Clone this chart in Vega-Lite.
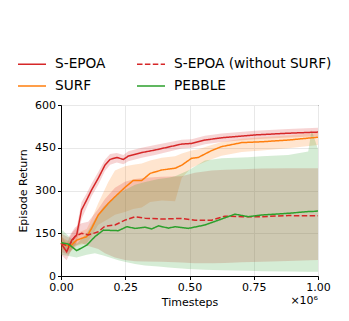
{
  "$schema": "https://vega.github.io/schema/vega-lite/v6.json",
  "autosize": {"type": "none"},
  "width": 257,
  "height": 171,
  "padding": {"left": 61, "top": 105, "right": 31, "bottom": 45},
  "background": "white",
  "config": {
    "font": "DejaVu Sans",
    "view": {"stroke": "black", "strokeWidth": 1},
    "axis": {
      "labelFont": "DejaVu Sans", "labelFontSize": 11, "labelColor": "black",
      "titleFont": "DejaVu Sans", "titleFontSize": 11, "titleFontWeight": "normal", "titleColor": "black",
      "domainColor": "black", "tickColor": "black", "tickSize": 3.5, "labelPadding": 2,
      "gridColor": "#e8e8e8", "gridWidth": 1, "labelFlush": false
    },
    "legend": {
      "labelFont": "DejaVu Sans", "labelFontSize": 13.7, "labelColor": "black"
    }
  },
  "datasets": {
    "bands": [
      {"series": "S-EPOA", "x": 0.0, "y": 115, "lo": 75, "hi": 140},
      {"series": "S-EPOA", "x": 0.022, "y": 85, "lo": 55, "hi": 115},
      {"series": "S-EPOA", "x": 0.042, "y": 126, "lo": 95, "hi": 150},
      {"series": "S-EPOA", "x": 0.061, "y": 144, "lo": 115, "hi": 170},
      {"series": "S-EPOA", "x": 0.080, "y": 232, "lo": 200, "hi": 260},
      {"series": "S-EPOA", "x": 0.100, "y": 267, "lo": 240, "hi": 290},
      {"series": "S-EPOA", "x": 0.119, "y": 302, "lo": 280, "hi": 325},
      {"series": "S-EPOA", "x": 0.145, "y": 343, "lo": 320, "hi": 365},
      {"series": "S-EPOA", "x": 0.171, "y": 389, "lo": 368, "hi": 408},
      {"series": "S-EPOA", "x": 0.191, "y": 409, "lo": 390, "hi": 428},
      {"series": "S-EPOA", "x": 0.217, "y": 416, "lo": 398, "hi": 432},
      {"series": "S-EPOA", "x": 0.243, "y": 409, "lo": 392, "hi": 425},
      {"series": "S-EPOA", "x": 0.262, "y": 421, "lo": 403, "hi": 438},
      {"series": "S-EPOA", "x": 0.314, "y": 433, "lo": 415, "hi": 450},
      {"series": "S-EPOA", "x": 0.366, "y": 442, "lo": 425, "hi": 460},
      {"series": "S-EPOA", "x": 0.470, "y": 463, "lo": 447, "hi": 478},
      {"series": "S-EPOA", "x": 0.508, "y": 465, "lo": 450, "hi": 480},
      {"series": "S-EPOA", "x": 0.560, "y": 477, "lo": 462, "hi": 492},
      {"series": "S-EPOA", "x": 0.625, "y": 485, "lo": 470, "hi": 500},
      {"series": "S-EPOA", "x": 0.755, "y": 495, "lo": 480, "hi": 510},
      {"series": "S-EPOA", "x": 0.884, "y": 501, "lo": 486, "hi": 516},
      {"series": "S-EPOA", "x": 1.0, "y": 505, "lo": 490, "hi": 520},

      {"series": "SURF", "x": 0.0, "y": 117, "lo": 95, "hi": 140},
      {"series": "SURF", "x": 0.015, "y": 110, "lo": 90, "hi": 130},
      {"series": "SURF", "x": 0.035, "y": 103, "lo": 85, "hi": 120},
      {"series": "SURF", "x": 0.061, "y": 126, "lo": 105, "hi": 150},
      {"series": "SURF", "x": 0.100, "y": 138, "lo": 115, "hi": 165},
      {"series": "SURF", "x": 0.119, "y": 167, "lo": 140, "hi": 200},
      {"series": "SURF", "x": 0.145, "y": 214, "lo": 180, "hi": 255},
      {"series": "SURF", "x": 0.184, "y": 255, "lo": 200, "hi": 330},
      {"series": "SURF", "x": 0.210, "y": 278, "lo": 215, "hi": 370},
      {"series": "SURF", "x": 0.249, "y": 311, "lo": 225, "hi": 385},
      {"series": "SURF", "x": 0.281, "y": 335, "lo": 235, "hi": 390},
      {"series": "SURF", "x": 0.314, "y": 335, "lo": 240, "hi": 395},
      {"series": "SURF", "x": 0.347, "y": 360, "lo": 260, "hi": 405},
      {"series": "SURF", "x": 0.392, "y": 372, "lo": 265, "hi": 415},
      {"series": "SURF", "x": 0.444, "y": 378, "lo": 262, "hi": 420},
      {"series": "SURF", "x": 0.470, "y": 389, "lo": 345, "hi": 430},
      {"series": "SURF", "x": 0.508, "y": 413, "lo": 380, "hi": 440},
      {"series": "SURF", "x": 0.534, "y": 416, "lo": 390, "hi": 445},
      {"series": "SURF", "x": 0.586, "y": 440, "lo": 410, "hi": 460},
      {"series": "SURF", "x": 0.625, "y": 454, "lo": 422, "hi": 470},
      {"series": "SURF", "x": 0.703, "y": 468, "lo": 435, "hi": 482},
      {"series": "SURF", "x": 0.781, "y": 471, "lo": 440, "hi": 487},
      {"series": "SURF", "x": 0.884, "y": 477, "lo": 448, "hi": 493},
      {"series": "SURF", "x": 1.0, "y": 487, "lo": 460, "hi": 503},

      {"series": "S-EPOA (without SURF)", "x": 0.0, "y": 115, "lo": 85, "hi": 150},
      {"series": "S-EPOA (without SURF)", "x": 0.029, "y": 104, "lo": 75, "hi": 135},
      {"series": "S-EPOA (without SURF)", "x": 0.054, "y": 138, "lo": 105, "hi": 170},
      {"series": "S-EPOA (without SURF)", "x": 0.080, "y": 150, "lo": 115, "hi": 185},
      {"series": "S-EPOA (without SURF)", "x": 0.106, "y": 144, "lo": 105, "hi": 190},
      {"series": "S-EPOA (without SURF)", "x": 0.145, "y": 155, "lo": 95, "hi": 235},
      {"series": "S-EPOA (without SURF)", "x": 0.171, "y": 175, "lo": 80, "hi": 270},
      {"series": "S-EPOA (without SURF)", "x": 0.210, "y": 179, "lo": 65, "hi": 310},
      {"series": "S-EPOA (without SURF)", "x": 0.249, "y": 196, "lo": 56, "hi": 331},
      {"series": "S-EPOA (without SURF)", "x": 0.288, "y": 208, "lo": 52, "hi": 340},
      {"series": "S-EPOA (without SURF)", "x": 0.327, "y": 203, "lo": 51, "hi": 345},
      {"series": "S-EPOA (without SURF)", "x": 0.392, "y": 200, "lo": 50, "hi": 348},
      {"series": "S-EPOA (without SURF)", "x": 0.470, "y": 202, "lo": 47, "hi": 350},
      {"series": "S-EPOA (without SURF)", "x": 0.521, "y": 196, "lo": 45, "hi": 362},
      {"series": "S-EPOA (without SURF)", "x": 0.586, "y": 196, "lo": 45, "hi": 370},
      {"series": "S-EPOA (without SURF)", "x": 0.638, "y": 210, "lo": 46, "hi": 373},
      {"series": "S-EPOA (without SURF)", "x": 0.703, "y": 208, "lo": 48, "hi": 375},
      {"series": "S-EPOA (without SURF)", "x": 0.781, "y": 208, "lo": 50, "hi": 377},
      {"series": "S-EPOA (without SURF)", "x": 0.884, "y": 212, "lo": 53, "hi": 378},
      {"series": "S-EPOA (without SURF)", "x": 1.0, "y": 211, "lo": 56, "hi": 378},

      {"series": "PEBBLE", "x": 0.0, "y": 117, "lo": 75, "hi": 165},
      {"series": "PEBBLE", "x": 0.029, "y": 112, "lo": 70, "hi": 140},
      {"series": "PEBBLE", "x": 0.061, "y": 89, "lo": 65, "hi": 112},
      {"series": "PEBBLE", "x": 0.100, "y": 108, "lo": 75, "hi": 150},
      {"series": "PEBBLE", "x": 0.132, "y": 138, "lo": 80, "hi": 200},
      {"series": "PEBBLE", "x": 0.165, "y": 161, "lo": 72, "hi": 243},
      {"series": "PEBBLE", "x": 0.223, "y": 159, "lo": 55, "hi": 290},
      {"series": "PEBBLE", "x": 0.256, "y": 173, "lo": 48, "hi": 305},
      {"series": "PEBBLE", "x": 0.288, "y": 167, "lo": 42, "hi": 320},
      {"series": "PEBBLE", "x": 0.327, "y": 171, "lo": 37, "hi": 330},
      {"series": "PEBBLE", "x": 0.353, "y": 165, "lo": 35, "hi": 335},
      {"series": "PEBBLE", "x": 0.379, "y": 176, "lo": 33, "hi": 340},
      {"series": "PEBBLE", "x": 0.418, "y": 168, "lo": 30, "hi": 345},
      {"series": "PEBBLE", "x": 0.444, "y": 173, "lo": 28, "hi": 350},
      {"series": "PEBBLE", "x": 0.495, "y": 167, "lo": 25, "hi": 370},
      {"series": "PEBBLE", "x": 0.560, "y": 179, "lo": 22, "hi": 405},
      {"series": "PEBBLE", "x": 0.625, "y": 200, "lo": 20, "hi": 413},
      {"series": "PEBBLE", "x": 0.677, "y": 217, "lo": 19, "hi": 415},
      {"series": "PEBBLE", "x": 0.729, "y": 208, "lo": 18, "hi": 417},
      {"series": "PEBBLE", "x": 0.781, "y": 214, "lo": 17, "hi": 420},
      {"series": "PEBBLE", "x": 0.884, "y": 220, "lo": 16, "hi": 425},
      {"series": "PEBBLE", "x": 0.962, "y": 226, "lo": 15, "hi": 437},
      {"series": "PEBBLE", "x": 0.975, "y": 226, "lo": 15, "hi": 512},
      {"series": "PEBBLE", "x": 1.0, "y": 228, "lo": 15, "hi": 445}
    ]
  },
  "data": {"name": "bands"},
  "layer": [
    {
      "mark": {"type": "area", "opacity": 0.2},
      "encoding": {
        "x": {"field": "x", "type": "quantitative", "scale": {"domain": [0, 1], "nice": false},
              "axis": {"values": [0, 0.25, 0.5, 0.75, 1], "format": ".2f", "title": "Timesteps", "titlePadding": 4, "grid": true}},
        "y": {"field": "lo", "type": "quantitative", "scale": {"domain": [0, 600], "nice": false},
              "axis": {"values": [0, 150, 300, 450, 600], "title": "Episode Return", "titlePadding": 6, "grid": true}},
        "y2": {"field": "hi"},
        "color": {"field": "series", "type": "nominal",
                  "scale": {"domain": ["S-EPOA", "SURF", "S-EPOA (without SURF)", "PEBBLE"], "range": ["#d62728", "#ff7f0e", "#d62728", "#2ca02c"]},
                  "legend": {"title": null, "orient": "none", "legendX": -44, "legendY": -56, "columns": 2,
                             "symbolType": "stroke", "symbolSize": 784, "symbolStrokeWidth": 1.5, "symbolOpacity": 1,
                             "labelOffset": 8, "columnPadding": 28, "rowPadding": -1, "labelLimit": 300}}
      }
    },
    {
      "mark": {"type": "line", "strokeWidth": 1.5},
      "encoding": {
        "x": {"field": "x", "type": "quantitative"},
        "y": {"field": "y", "type": "quantitative"},
        "color": {"field": "series", "type": "nominal"},
        "strokeDash": {"field": "series", "type": "nominal",
                       "scale": {"domain": ["S-EPOA", "SURF", "S-EPOA (without SURF)", "PEBBLE"], "range": [[1, 0], [1, 0], [5.5, 2.4], [1, 0]]},
                       "legend": {"title": null}}
      }
    },
    {
      "data": {"values": [{"x": 1.0, "y": 0, "t": "×10⁶"}]},
      "mark": {"type": "text", "align": "right", "baseline": "middle", "dy": 25, "fontSize": 11, "font": "DejaVu Sans", "color": "black"},
      "encoding": {
        "x": {"field": "x", "type": "quantitative"},
        "y": {"field": "y", "type": "quantitative"},
        "text": {"field": "t"}
      }
    }
  ]
}
